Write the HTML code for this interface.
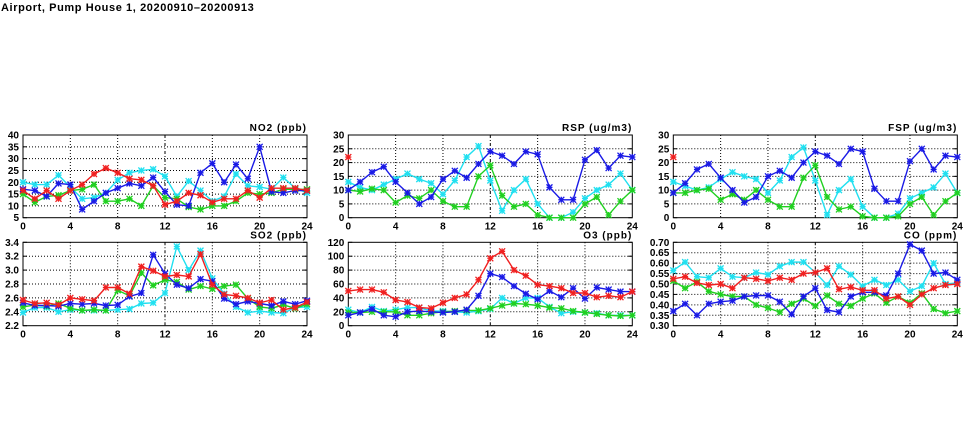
<!DOCTYPE html>
<html><head><meta charset="utf-8"><style>
html,body{margin:0;padding:0;background:#fff;}
svg{display:block;font-family:"Liberation Sans",sans-serif;}
</style></head><body>
<svg id="s" width="975" height="447" xmlns="http://www.w3.org/2000/svg">
<text x="1" y="11" font-size="11" font-weight="bold" letter-spacing="0.6" fill="#000">Airport, Pump House 1, 20200910–20200913</text>
</svg>
<script>
const B='#1a1ae6',R='#f02020',G='#20d020',C='#20e0f0';
const panels=[
{x0:23,x1:307,yt:135,yb:217.7,min:5,max:40,step:5,dec:0,title:'NO2 (ppb)',s:[
[C,[20,19,19,23,18,13,13.5,15.5,21,24,25,25.5,22.5,14,20.5,16.5,12,14,23.5,18.5,18,17,22,17.5,15.5]],
[G,[15,11.5,14,14.5,16.5,17,19,12,12,13,10,18.5,13.5,13,9.5,8.5,10,10,12,15.5,15,15.5,17,17,17]],
[B,[17,16.5,14,19.5,19,8.5,12,15.5,17.5,19.5,18.5,22,16,10.5,10,24,28,20,27.5,21.5,35,16,15.5,16.5,16.5]],
[R,[16.5,13,16.5,13,16.5,19,23.5,26,24,21.5,21,18.5,10.5,12,15.5,14.5,11.5,13,13,16.5,13.5,17.5,17.5,17.5,16.5]]]},
{x0:23,x1:307,yt:242.3,yb:325.7,min:2.2,max:3.4,step:0.2,dec:1,title:'SO2 (ppb)',s:[
[C,[2.39,2.46,2.46,2.4,2.43,2.42,2.42,2.42,2.43,2.44,2.52,2.53,2.67,3.34,3.0,3.28,2.88,2.66,2.47,2.39,2.41,2.39,2.38,2.46,2.47]],
[G,[2.47,2.5,2.48,2.52,2.45,2.42,2.43,2.42,2.71,2.63,2.96,2.78,2.86,2.83,2.72,2.77,2.73,2.77,2.79,2.59,2.47,2.45,2.5,2.45,2.51]],
[B,[2.53,2.49,2.49,2.48,2.52,2.51,2.52,2.49,2.5,2.62,2.67,3.22,2.95,2.79,2.74,2.87,2.84,2.59,2.51,2.55,2.52,2.49,2.55,2.51,2.56]],
[R,[2.57,2.52,2.53,2.5,2.6,2.58,2.56,2.75,2.75,2.66,3.05,2.99,2.91,2.93,2.91,3.23,2.79,2.65,2.63,2.6,2.53,2.57,2.43,2.46,2.54]]]},
{x0:348.3,x1:632.3,yt:135,yb:217.7,min:0,max:30,step:5,dec:0,title:'RSP (ug/m3)',s:[
[C,[13,11,10,12,14,16,14,12.5,8.5,13.5,22,26,13.5,2.5,10,14,5,0,0,2,7,10,12,16,10]],
[G,[10,9.5,10.5,10,5.5,8,7,10,6,4,4,15,19,8,4,5,1,0,0,0,5,7.5,1,6,10]],
[B,[10,13,16.5,18.5,13,9,5,7.5,14,17,14.5,19.5,24,22.5,19.5,24,23,11,6.5,6.5,21,24.5,18,22.5,22]],
[R,[22]]]},
{x0:348.3,x1:632.3,yt:242.3,yb:325.7,min:0,max:120,step:20,dec:0,title:'O3 (ppb)',s:[
[C,[23,19,27,21,23,26,26,21,21,20,19,21,24,40,32,40,40,27,18,20,19,18,15,15,15]],
[G,[19,19,20,20,20,15,15,18,20,21,22,22,25,29,32,31,29,26,25,21,19,17,15,14,15]],
[B,[15,19,24,15,13,20,21,20,19,20,23,43,75,70,57,46,38,50,41,54,39,55,52,49,49]],
[R,[50,52,52,48,37,34,26,25,33,40,45,66,97,107,80,72,59,57,54,47,47,41,43,41,49]]]},
{x0:673.3,x1:957.3,yt:135,yb:217.7,min:0,max:30,step:5,dec:0,title:'FSP (ug/m3)',s:[
[C,[13,11.5,10,11,14,16.5,15,14,9,13.5,22,25.5,13.5,1,10,14,4,0,0,1.5,7,9,11,16,9]],
[G,[9,9,10,10.5,6.5,8.5,6.5,10,6.5,4,4,14.5,19,7.5,3,4,0.5,0,0,0.5,5,7.5,1,6,9]],
[B,[9,12.5,17.5,19.5,14.5,10,5.5,7.5,15,17,14.5,20,24,22.5,19.5,25,24,10.5,6,6,20.5,25,17.5,22.5,22]],
[R,[22]]]},
{x0:673.3,x1:957.3,yt:242.3,yb:325.7,min:0.3,max:0.7,step:0.05,dec:2,title:'CO (ppm)',s:[
[C,[.565,.605,.535,.53,.575,.535,.53,.555,.545,.585,.605,.605,.555,.495,.585,.545,.49,.52,.495,.52,.465,.49,.6,.5,.505]],
[G,[.515,.48,.51,.465,.45,.44,.44,.40,.385,.365,.405,.43,.395,.445,.405,.395,.43,.455,.41,.44,.41,.455,.38,.36,.37]],
[B,[.37,.405,.35,.405,.415,.42,.44,.445,.445,.415,.355,.44,.48,.375,.365,.44,.46,.46,.445,.55,.69,.66,.55,.555,.52]],
[R,[.525,.535,.505,.495,.5,.48,.53,.525,.515,.53,.52,.55,.555,.575,.475,.485,.47,.47,.43,.44,.4,.45,.48,.495,.5]]]}
];
let h='';
for(const p of panels){
 const X=i=>p.x0+(p.x1-p.x0)*i/24, Y=v=>p.yb-(p.yb-p.yt)*(v-p.min)/(p.max-p.min);
 const n=Math.round((p.max-p.min)/p.step);
 for(let k=0;k<=n;k++){const v=p.min+k*p.step,y=Y(v);
  if(k>0&&k<n)h+=`<line x1="${p.x0}" x2="${p.x1}" y1="${y}" y2="${y}" stroke="#000" stroke-width="1" stroke-dasharray="1,2"/>`;
  h+=`<line x1="${p.x0}" x2="${p.x0+4}" y1="${y}" y2="${y}" stroke="#000"/><line x1="${p.x1-4}" x2="${p.x1}" y1="${y}" y2="${y}" stroke="#000"/>`;
  h+=`<text x="${p.x0-4}" y="${y+3.5}" font-size="10" font-weight="bold" text-anchor="end">${v.toFixed(p.dec)}</text>`;}
 for(let t=0;t<=24;t+=4){const x=X(t);
  if(t>0&&t<24)h+=`<line x1="${x}" x2="${x}" y1="${p.yt}" y2="${p.yb}" stroke="#000" stroke-dasharray="${t==12?'3,2,1,2':'1,2'}"/>`;
  h+=`<text x="${x}" y="${p.yb+12}" font-size="10" font-weight="bold" text-anchor="middle">${t}</text>`;}
 h+=`<rect x="${p.x0}" y="${p.yt}" width="${p.x1-p.x0}" height="${p.yb-p.yt}" fill="none" stroke="#000"/>`;
 h+=`<text x="${p.x1}" y="${p.yt-4}" font-size="10" font-weight="bold" letter-spacing="1" text-anchor="end">${p.title}</text>`;
 for(const [c,d] of p.s){
  const pts=d.map((v,i)=>X(i).toFixed(1)+','+Y(v).toFixed(1)).join(' ');
  if(d.length>1)h+=`<polyline points="${pts}" fill="none" stroke="${c}" stroke-width="1.4"/>`;
  d.forEach((v,i)=>{const x=X(i),y=Y(v),r=3;
   h+=`<path d="M${x-r},${y-r}L${x+r},${y+r}M${x-r},${y+r}L${x+r},${y-r}M${x-r},${y}L${x+r},${y}M${x},${y-r}L${x},${y+r}" stroke="${c}" stroke-width="1.3"/>`;});
 }
}
document.getElementById('s').insertAdjacentHTML('beforeend',h);
</script>
</body></html>
